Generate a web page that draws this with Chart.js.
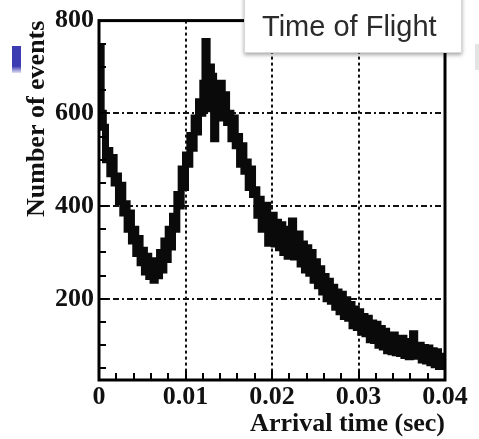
<!DOCTYPE html>
<html>
<head>
<meta charset="utf-8">
<script src="https://cdn.jsdelivr.net/npm/chart.js@4/dist/chart.umd.min.js"></script>
<style>
  html, body { margin: 0; padding: 0; background: #fff; }
  #wrap { position: relative; width: 479px; height: 439px; overflow: hidden; }
  #myChart { position: absolute; left: 0; top: 0; }
  .slideMark { position: absolute; left: 12px; top: 46px; width: 9px; height: 27px;
    background: linear-gradient(#3b3bb2 0%, #3b3bb2 75%, rgba(59,59,178,0.15) 100%); }
  .slideEdge { position: absolute; left: 475px; top: 44px; width: 6px; height: 26px; background: #e4e4e4; }
  .legendBox { position: absolute; left: 244px; top: -6px; width: 216px; height: 57px; background: #fff;
    border: 1px solid #d8d8d8; box-shadow: 0 2px 4px rgba(0,0,0,0.35); }
  .legendBox span { position: absolute; left: 17px; top: 15px; line-height: 33px;
    font: 29px "Liberation Sans", Arial, sans-serif; color: #2b2b2b; white-space: nowrap; }
</style>
</head>
<body>
<div id="wrap">
  <canvas id="myChart" width="479" height="439"></canvas>
  <div class="slideMark"></div>
  <div class="slideEdge"></div>
  <div class="legendBox"><span>Time of Flight</span></div>
</div>
<script>
/* ---------- DATA ---------- */
const binWidth = 0.00025;   // sec per histogram bin
// events per bin, 4 bins per millisecond, 0 .. 0.04 s
const counts = [
    740, 600, 570, 500,   520, 470, 505, 450,   465, 410, 445, 385,   405, 350, 385, 325,
    350, 298, 330, 278,   305, 258, 292, 248,   282, 240, 272, 250,   300, 262, 325, 285,
    350, 312, 378, 350,   425, 400, 480, 440,   510, 490, 552, 525,   590, 560, 625, 600,
    665, 755, 610, 700,   680, 545, 660, 600,   665, 590, 640, 580,   600, 545, 590, 530,
    550, 490, 530, 475,   495, 440, 480, 425,   435, 380, 415, 350,   370, 402, 320, 375,
    380, 318, 365, 310,   360, 300, 350, 292,   345, 368, 290, 330,   340, 275, 318, 262,
    310, 255, 300, 240,   280, 228, 265, 215,   248, 200, 238, 195,   225, 182, 215, 172,
    210, 162, 198, 158,   188, 142, 178, 138,   172, 128, 162, 125,   158, 112, 148, 110,
    145, 100, 136,  96,   130,  88, 122,  86,   122,  84, 115,  82,   115,  78, 108,  75,
    105, 125,  76,  95,   100,  68,  95,  66,    94,  62,  88,  58,    86,  54,  76,  48
];
const xTicks = [0, 0.01, 0.02, 0.03, 0.04];
const yTicks = [200, 400, 600, 800];
const xMinorStep = 0.002;
const yMinorStep = 50;
const yMin = 25, yMax = 800;

const tickFont = { family: '"Liberation Serif", "Times New Roman", serif', size: 26, weight: 'bold' };
const titleFont = { family: '"Liberation Serif", "Times New Roman", serif', size: 26, weight: 'bold' };

/* ---------- FRAME + INWARD TICKS ---------- */
const framePlugin = {
    id: 'frame',
    afterDatasetsDraw(chart) {
        const { ctx, chartArea: a, scales: { x, y } } = chart;
        ctx.save();
        ctx.strokeStyle = '#000';
        ctx.lineWidth = 2;
        ctx.beginPath();
        for (let v = xMinorStep; v < 0.04 - 1e-9; v += xMinorStep) {
            const px = Math.round(x.getPixelForValue(v));
            const len = Math.abs(v / 0.01 - Math.round(v / 0.01)) < 1e-6 ? 9 : 7;
            ctx.moveTo(px, a.bottom);
            ctx.lineTo(px, a.bottom - len);
        }
        for (let v = yMinorStep; v < yMax; v += yMinorStep) {
            if (v < yMin) continue;
            const py = Math.round(y.getPixelForValue(v));
            const len = v % 200 === 0 ? 9 : 7;
            ctx.moveTo(a.left, py);
            ctx.lineTo(a.left + len, py);
        }
        ctx.stroke();
        ctx.lineWidth = 3;
        ctx.strokeRect(a.left, a.top, a.right - a.left, a.bottom - a.top);
        ctx.restore();
    }
};

/* ---------- CHART ---------- */
const ctx = document.getElementById('myChart').getContext('2d');
new Chart(ctx, {
    type: 'line',
    data: {
        datasets: [{
            label: 'Time of Flight',
            data: counts.map((c, i) => ({ x: i * binWidth, y: c })),
            borderColor: '#0a0a0a',
            borderWidth: 7,
            pointRadius: 0,
            stepped: true,
            fill: false
        }]
    },
    options: {
        responsive: false,
        animation: false,
        layout: { padding: { top: 17, right: 34, left: 0, bottom: 0 } },
        plugins: { legend: { display: false }, tooltip: { enabled: false } },
        scales: {
            x: {
                type: 'linear',
                min: 0,
                max: 0.04,
                afterBuildTicks: s => { s.ticks = xTicks.map(v => ({ value: v })); },
                afterFit: s => { s.height = 59; },
                ticks: {
                    color: '#111',
                    font: tickFont,
                    padding: 2,
                    maxRotation: 0,
                    callback: v => String(v)
                },
                grid: {
                    drawTicks: false,
                    lineWidth: 2,
                    color: c => (c.tick && c.tick.value > 0 && c.tick.value < 0.04) ? '#111' : 'transparent'
                },
                border: { display: false, dash: [3, 3] },
                title: {
                    display: true,
                    text: 'Arrival time (sec)',
                    align: 'end',
                    color: '#111',
                    font: titleFont,
                    padding: { top: 0, bottom: -1 }
                }
            },
            y: {
                min: yMin,
                max: yMax,
                afterBuildTicks: s => { s.ticks = yTicks.map(v => ({ value: v })); },
                afterFit: s => { s.width = 99; },
                ticks: {
                    color: '#111',
                    font: tickFont,
                    padding: 5,
                    callback: v => String(v)
                },
                grid: {
                    drawTicks: false,
                    lineWidth: 2,
                    color: c => (c.tick && c.tick.value < 800) ? '#111' : 'transparent'
                },
                border: { display: false, dash: [6, 3, 2, 3] },
                title: {
                    display: true,
                    text: 'Number of events',
                    align: 'end',
                    color: '#111',
                    font: titleFont,
                    padding: { top: 22, bottom: 0 }
                }
            }
        }
    },
    plugins: [framePlugin]
});
</script>
</body>
</html>
